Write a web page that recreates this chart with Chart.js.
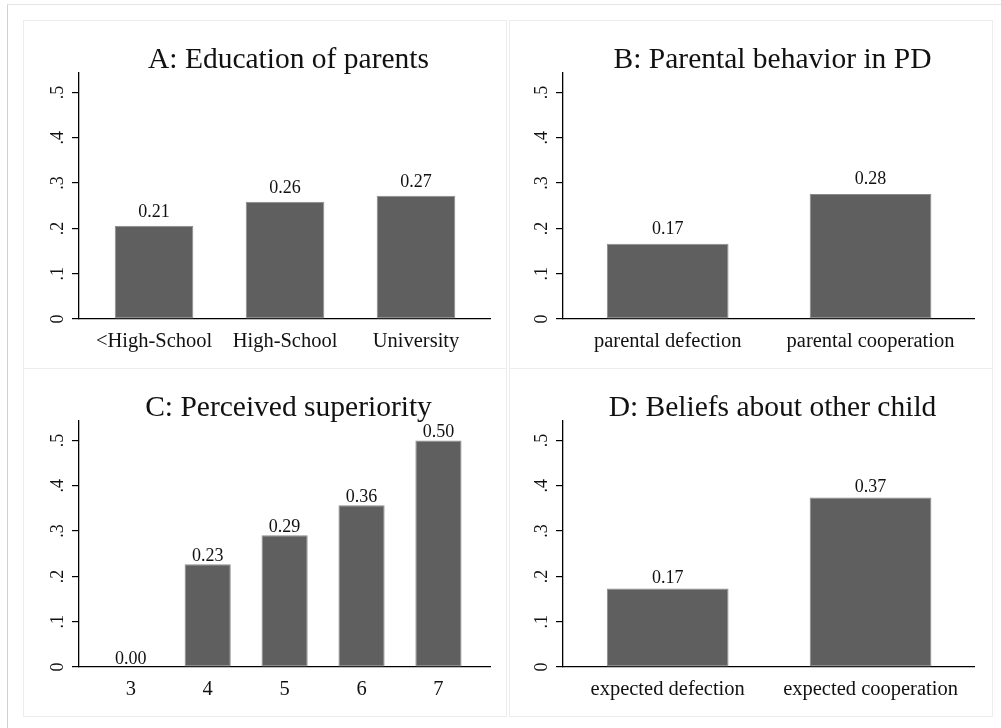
<!DOCTYPE html>
<html>
<head>
<meta charset="utf-8">
<script src="https://cdn.jsdelivr.net/npm/chart.js@4/dist/chart.umd.min.js"></script>
<style>
  html, body { margin: 0; padding: 0; background: #ffffff; }
  body { width: 1001px; height: 728px; position: relative; overflow: hidden; }
  .frame { position: absolute; left: 7px; top: 4px; width: 1000px; height: 730px;
           border-top: 1px solid #e6e6e6; border-left: 1.5px solid #d2d2d2; box-sizing: border-box; }
  .panel { position: absolute; border: 1.5px solid #ececec; box-sizing: border-box; background: #ffffff; }
  canvas { position: absolute; }
</style>
</head>
<body>
<div class="frame"></div>
<div class="panel" style="left:23px;top:20px;width:484px;height:349px;"></div>
<div class="panel" style="left:509px;top:20px;width:484px;height:349px;"></div>
<div class="panel" style="left:23px;top:368px;width:484px;height:349px;"></div>
<div class="panel" style="left:509px;top:368px;width:484px;height:349px;"></div>
<canvas id="panelA" width="484" height="348" style="left:23px;top:20px;"></canvas>
<canvas id="panelB" width="484" height="348" style="left:509px;top:20px;"></canvas>
<canvas id="panelC" width="484" height="348" style="left:23px;top:369px;"></canvas>
<canvas id="panelD" width="484" height="348" style="left:509px;top:369px;"></canvas>
<script>
// Share of children choosing to cooperate, by group
const eduLabels = ['<High-School', 'High-School', 'University'];
const eduShares = [0.206, 0.259, 0.272];

const parentLabels = ['parental defection', 'parental cooperation'];
const parentShares = [0.166, 0.276];

const superiorityLabels = ['3', '4', '5', '6', '7'];
const superiorityShares = [0, 0.227, 0.291, 0.357, 0.5];

const beliefLabels = ['expected defection', 'expected cooperation'];
const beliefShares = [0.173, 0.374];

const yTickValues = [0, 0.1, 0.2, 0.3, 0.4, 0.5];
const yTickLabels = ['0', '.1', '.2', '.3', '.4', '.5'];

const SERIF = '"Liberation Serif", "Times New Roman", serif';
const INK = '#111111';

// Panel heading, centred over the plot region
const panelTitle = {
  id: 'panelTitle',
  afterDraw(chart, args, opts) {
    const { ctx, chartArea } = chart;
    ctx.save();
    ctx.font = `${opts.size}px ${SERIF}`;
    ctx.fillStyle = INK;
    ctx.textAlign = 'center';
    ctx.textBaseline = 'alphabetic';
    ctx.fillText(opts.text, (chartArea.left + chartArea.right) / 2 + opts.shift, chartArea.top - opts.lift);
    ctx.restore();
  }
};

// Value printed above each bar
const barValues = {
  id: 'barValues',
  afterDatasetsDraw(chart, args, opts) {
    const { ctx } = chart;
    const meta = chart.getDatasetMeta(0);
    const ds = chart.data.datasets[0];
    ctx.save();
    ctx.font = `${opts.size}px ${SERIF}`;
    ctx.fillStyle = INK;
    ctx.textAlign = 'center';
    ctx.textBaseline = 'alphabetic';
    meta.data.forEach((bar, i) => {
      const v = ds.data[i].y;
      ctx.fillText(v.toFixed(2), bar.x, bar.y - opts.gap);
    });
    ctx.restore();
  }
};

function drawPanel(id, title, labels, values, cfg) {
  const points = labels.map((_, i) => ({ x: i, y: values[i] }));
  return new Chart(document.getElementById(id), {
    type: 'bar',
    data: {
      datasets: [{
        data: points,
        backgroundColor: '#5f5f5f',
        borderColor: '#8a8a8a',
        borderWidth: ctx => (ctx.raw && ctx.raw.y > 0 ? 1 : 0),
        borderSkipped: false,
        barPercentage: 0.6,
        categoryPercentage: 1.0
      }]
    },
    plugins: [panelTitle, barValues],
    options: {
      responsive: false,
      animation: false,
      devicePixelRatio: 1,
      layout: { padding: { left: 0, right: cfg.padRight, top: cfg.padTop, bottom: 0 } },
      plugins: {
        legend: { display: false },
        tooltip: { enabled: false },
        title: { display: false },
        panelTitle: { text: title, size: 29.5, shift: 4, lift: 5 },
        barValues: { size: 18, gap: cfg.gap }
      },
      scales: {
        x: {
          type: 'linear',
          offset: false,
          min: cfg.xMin,
          max: cfg.xMax,
          afterBuildTicks: s => { s.ticks = labels.map((_, i) => ({ value: i })); },
          afterFit: s => { s.height = cfg.xHeight; },
          grid: { display: false, drawTicks: false, offset: false },
          border: { display: true, color: '#000000', width: 1.3 },
          ticks: {
            autoSkip: false,
            maxRotation: 0,
            minRotation: 0,
            padding: 10,
            color: INK,
            font: { family: SERIF, size: 20.5 },
            callback: (v, i) => labels[i]
          }
        },
        y: {
          type: 'linear',
          min: 0,
          max: 0.543,
          afterBuildTicks: s => { s.ticks = yTickValues.map(v => ({ value: v })); },
          afterFit: s => { s.width = cfg.yWidth; },
          grid: { display: true, drawOnChartArea: false, drawTicks: true, tickLength: 7, color: '#000000', lineWidth: 1.2 },
          border: { display: true, color: '#000000', width: 1.3 },
          ticks: {
            autoSkip: false,
            minRotation: 90,
            maxRotation: 90,
            crossAlign: 'center',
            padding: 7,
            color: INK,
            font: { family: SERIF, size: 18 },
            callback: (v, i) => yTickLabels[i]
          }
        }
      }
    }
  });
}

drawPanel('panelA', 'A: Education of parents', eduLabels, eduShares,
  { xMin: -0.573, xMax: 2.565, yWidth: 56, xHeight: 49, padRight: 17, padTop: 53, gap: 9 });
drawPanel('panelB', 'B: Parental behavior in PD', parentLabels, parentShares,
  { xMin: -0.516, xMax: 1.51, yWidth: 54, xHeight: 49, padRight: 19, padTop: 53, gap: 10 });
drawPanel('panelC', 'C: Perceived superiority', superiorityLabels, superiorityShares,
  { xMin: -0.673, xMax: 4.67, yWidth: 56, xHeight: 50, padRight: 17, padTop: 52, gap: 3 });
drawPanel('panelD', 'D: Beliefs about other child', beliefLabels, beliefShares,
  { xMin: -0.516, xMax: 1.51, yWidth: 54, xHeight: 50, padRight: 19, padTop: 52, gap: 5.5 });
</script>
</body>
</html>
